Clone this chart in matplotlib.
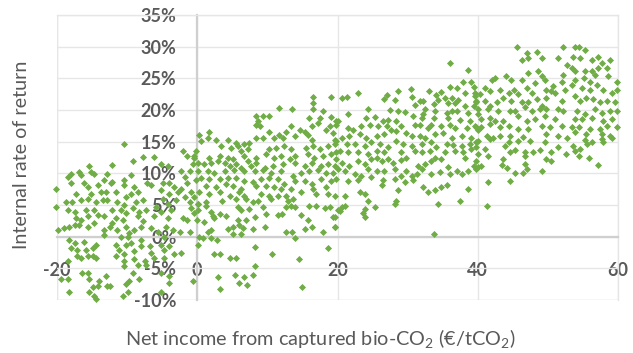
import matplotlib
matplotlib.use("Agg")
import matplotlib.pyplot as plt
from matplotlib.ticker import FuncFormatter

plt.rcParams['font.family'] = ['Lato', 'DejaVu Sans']
plt.rcParams['mathtext.fontset'] = 'custom'
plt.rcParams['mathtext.rm'] = 'Lato'
plt.rcParams['mathtext.default'] = 'regular'

# (net income €/tCO2, IRR %), grouped by region
pts_left = [
    (-10.4,14.6),(-7.8,12.6),(-6.1,12.6),(-2.1,13.5),(-1.4,12.8),(-0.4,12.5),(-0.6,11.5),(-9.2,12.0),
    (-12.1,11.3),(-15.4,11.1),(-15.2,10.2),(-14.7,9.9),(-16.8,10.2),(-16.6,9.7),(-18.0,9.9),(-18.5,9.5),
    (-5.2,11.5),(-4.2,11.2),(-2.3,10.4),(-1.1,10.4),(-1.8,9.4),(-12.8,9.9),(-13.3,8.9),(-10.4,8.9),
    (-9.5,9.7),(-12.3,8.4),(-12.1,8.6),(-10.4,8.1),(-9.0,7.8),(-7.1,8.4),(-6.6,8.1),(-4.9,8.4),
    (-4.0,8.4),(-3.3,7.8),(-2.3,7.6),(-1.4,8.4),(-0.2,8.9),(-18.0,8.4),(-16.1,8.4),(-15.6,7.8),
    (-14.2,8.1),(-20.2,7.6),(-13.7,7.1),(-13.0,7.1),(-11.6,7.1),(-8.5,7.1),(-9.5,6.8),(-5.2,7.3),
    (-4.0,6.8),(-2.8,7.1),(-0.9,7.1),(-0.4,6.3),(-15.2,6.8),(-18.7,5.5),(-17.8,5.5),(-17.3,6.8),
    (-16.6,5.8),(-15.6,6.0),(-14.5,5.5),(-13.5,5.8),(-12.8,5.8),(-11.4,5.5),(-10.2,6.3),(-10.4,5.0),
    (-8.7,5.5),(-7.8,5.8),(-4.9,6.0),(-4.2,5.2),(-3.0,5.8),(-1.8,6.3),(-1.1,5.5),(0.1,5.2),
    (-20.2,4.7),(-18.5,4.2),(-17.5,3.9),(-15.9,4.2),(-14.7,4.2),(-14.2,3.4),(-12.1,4.2),(-10.9,4.2),
    (-10.2,3.7),(-9.2,4.5),(-8.3,3.9),(-7.3,4.2),(-5.9,4.7),(-5.2,3.9),(-3.7,4.2),(-0.9,4.5),
    (-0.4,3.7),(-17.3,2.9),(-16.6,2.6),(-15.6,3.2),(-13.3,3.2),(-11.6,2.9),(-10.6,2.6),(-8.5,3.2),
    (-7.8,2.4),(-6.1,3.2),(-4.2,2.9),(-2.1,2.9),(-1.4,2.6),(-19.9,1.1),(-19.0,1.3),(-18.3,1.6),
    (-17.5,1.9),(-16.8,1.9),(-15.6,1.6),(-14.7,2.1),(-13.3,1.1),(-12.5,1.6),(-12.1,2.1),(-11.4,1.1),
    (-10.2,1.6),(-9.7,0.6),(-9.0,1.1),(-8.0,1.6),(-6.6,1.3),(-5.6,0.8),(-4.4,1.6),(-3.5,1.1),
    (-2.5,0.8),(-1.1,0.8),(-13.3,0.3),(-10.9,0.0),(-9.9,0.0),(-8.0,-0.5),(-4.7,0.0),(-18.3,-0.5),
    (-17.5,-1.0),(-16.1,-0.8),(-14.5,-1.3),(-18.0,-1.8),(-17.1,-2.1),(-15.9,-2.1),(-14.9,-1.8),(-11.6,-1.3),
    (-11.1,-2.1),(-10.2,-1.3),(-9.5,-1.0),(-8.0,-1.5),(-6.8,-1.5),(-5.2,-1.3),(-4.0,-1.5),(-11.6,-3.1),
    (-10.4,-2.8),(-9.0,-2.3),(-6.6,-2.6),(-4.7,-2.1),(-3.3,-2.8),(-2.3,-2.6),(-17.1,-3.1),(-16.6,-3.4),
    (-15.6,-3.1),(-14.9,-3.1),(-14.5,-3.4),(-18.5,-3.9),(-10.4,-3.9),(-9.0,-3.6),(-7.5,-3.9),(-6.1,-3.4),
    (-4.7,-3.4),(-10.4,-4.7),(-8.5,-4.4),(-7.3,-4.4),(-16.4,-5.7),(-15.6,-5.7),(-13.0,-6.2),(-14.0,-7.0),
    (-18.5,-6.7),(-19.5,-6.7),(-15.4,-6.7),(-9.2,-5.7),(-5.2,-5.7),(-4.0,-6.2),(-9.7,-7.0),(-8.3,-6.7),
    (-14.9,-8.0),(-14.2,-7.8),(-12.8,-7.8),(-10.2,-7.5),(-4.0,-7.3),(-0.6,-7.0),(-18.3,-8.8),(-15.4,-8.8),
    (-14.7,-9.3),(-14.5,-9.9),(-10.6,-9.3),(-9.9,-8.8),(-5.2,-8.8),(-12.5,-7.8),
]

pts_mid_low = [
    (16.5,22.0),(16.5,21.1),(16.5,20.1),(19.1,22.1),(11.6,20.3),(13.5,20.1),(17.9,19.8),(8.4,19.1),
    (9.4,19.1),(10.2,19.1),(16.0,18.7),(17.5,18.7),(19.1,18.9),(19.8,18.2),(8.6,18.2),(8.9,17.4),
    (8.4,17.7),(16.3,17.4),(17.2,17.9),(18.9,17.4),(10.3,16.6),(13.4,17.4),(14.6,16.9),(12.7,16.5),
    (11.7,16.1),(11.0,15.6),(12.2,15.6),(13.9,15.9),(15.3,16.6),(15.8,16.1),(16.3,15.3),(18.4,16.9),
    (19.4,16.4),(19.6,15.3),(1.7,16.6),(0.3,16.0),(1.5,15.6),(0.5,15.1),(2.7,15.2),(4.4,15.3),
    (5.5,14.8),(5.8,14.3),(6.7,14.6),(7.4,14.8),(8.4,15.6),(9.4,15.6),(7.2,13.8),(6.3,13.5),
    (4.8,14.0),(3.4,14.3),(10.3,13.8),(11.3,14.0),(12.4,14.3),(13.4,13.8),(15.5,14.0),(16.5,14.3),
    (17.5,13.8),(18.6,14.3),(19.6,14.6),(-0.2,13.5),(-0.4,12.7),(1.7,12.5),(3.2,12.7),(4.4,12.5),
    (5.1,12.2),(6.7,12.7),(7.2,11.9),(8.4,12.5),(9.8,13.0),(11.0,12.5),(12.0,12.7),(13.2,12.2),
    (13.9,12.7),(15.8,13.0),(16.7,12.5),(17.9,12.7),(19.1,13.0),(19.8,13.3),(0.1,11.7),(1.0,11.4),
    (2.0,11.7),(2.9,11.9),(3.9,11.7),(4.6,11.2),(5.5,11.4),(6.3,10.9),(7.7,11.2),(8.4,11.7),
    (9.6,10.9),(10.8,11.2),(12.2,11.4),(13.9,11.7),(15.3,11.2),(16.3,11.7),(17.7,11.2),(18.6,11.4),
    (19.6,11.2),(0.1,10.4),(1.5,10.4),(2.4,10.1),(3.9,10.4),(5.3,10.6),(6.7,10.4),(8.2,10.4),
    (9.4,10.6),(10.5,10.1),(12.0,10.4),(13.6,9.6),(14.8,10.1),(16.0,10.4),(17.2,10.6),(18.4,10.1),
    (19.4,10.1),(0.5,9.3),(1.7,9.1),(3.2,9.1),(4.4,9.3),(5.5,9.3),(6.7,8.8),(7.9,8.6),
    (9.1,9.1),(10.3,9.3),(11.5,9.1),(12.4,8.3),(13.9,8.8),(15.3,8.8),(16.3,8.3),(17.7,9.1),
    (19.1,8.8),(1.3,8.0),(2.7,7.8),(4.1,8.3),(5.1,8.0),(6.3,7.5),(8.4,8.0),(9.8,8.0),
    (11.0,7.8),(12.0,7.5),(13.4,7.5),(14.8,7.0),(16.5,7.5),(18.4,7.8),(0.3,7.0),(1.7,6.7),
    (3.2,7.0),(4.6,6.5),(6.0,7.0),(6.7,6.5),(9.1,6.7),(10.3,6.5),(11.5,6.5),(12.7,6.5),
    (17.0,6.7),(18.6,6.7),(19.6,6.5),
    (1.3,5.5),(0.1,5.2),(3.6,5.7),(5.5,6.0),(7.0,6.0),(7.9,5.5),(8.6,5.6),(10.5,6.0),
    (12.9,5.7),(13.6,6.0),(13.4,4.9),(12.7,4.7),(13.9,4.7),(16.0,4.8),(17.0,4.8),(18.2,4.5),
    (18.9,4.7),(20.1,4.2),(1.3,4.9),(0.1,4.2),(2.0,3.9),(3.2,3.6),(4.1,3.3),(2.4,2.9),
    (2.2,3.3),(5.8,4.7),(6.3,4.2),(7.4,4.4),(9.4,4.7),(9.8,3.6),(11.5,3.4),(12.1,3.6),
    (14.8,3.4),(15.8,2.6),(19.4,3.1),(0.0,2.6),(1.0,2.3),(5.8,2.6),(7.0,2.6),(8.2,3.1),
    (6.0,1.8),(5.1,1.6),(4.4,1.2),(6.5,1.3),(5.1,0.5),(6.3,0.5),(7.9,1.2),(9.6,1.6),
    (12.7,0.8),(13.5,0.8),(15.3,1.2),(16.3,1.6),(17.9,0.7),(19.6,1.6),(2.0,1.0),(1.5,0.7),
    (0.8,-0.2),(0.3,0.0),(2.0,-0.2),(2.8,-0.5),(14.0,-0.2),(0.1,-1.3),(8.3,-1.7),(18.7,-1.8),
    (2.4,-2.8),(3.3,-2.8),(4.7,-3.3),(5.5,-3.3),(10.6,-2.8),(14.5,-3.5),(8.3,-4.6),(3.0,-6.4),
    (5.4,-6.1),(6.6,-6.4),(7.9,-6.1),(6.0,-7.3),(7.1,-7.7),(3.2,-8.3),(14.9,-7.9),
]

pts_mid_high = [
    (36.0,27.5),(38.6,26.3),(37.9,24.5),(39.1,24.5),(39.4,23.7),(36.0,23.7),(37.0,23.5),(30.5,23.3),
    (28.6,23.0),(22.9,22.7),(33.1,23.0),(34.8,22.8),(34.1,22.3),(35.3,21.9),(36.3,21.9),(37.2,21.6),
    (38.2,22.7),(39.6,22.2),(39.8,21.4),(21.4,22.0),(20.7,21.9),(27.0,22.3),(26.7,21.7),(28.2,21.6),
    (30.6,22.0),(31.7,21.5),(32.2,21.4),(31.0,20.8),(33.7,21.0),(34.4,21.6),(35.8,21.1),(36.7,21.1),
    (38.2,20.6),(39.4,20.6),(24.4,20.2),(27.5,20.0),(28.6,19.8),(29.6,19.7),(32.5,20.1),(32.2,19.3),
    (32.0,18.8),(33.9,19.8),(35.6,19.5),(36.3,19.8),(37.0,19.8),(38.6,19.5),(40.1,19.3),(21.5,19.3),
    (25.3,18.9),(24.1,18.8),(20.1,18.2),(19.8,17.7),(27.2,18.5),(26.5,18.2),(28.4,18.2),(30.8,19.0),
    (31.0,17.7),(31.7,17.7),(33.7,18.8),(33.4,17.7),(35.8,18.8),(37.5,18.5),(38.9,18.2),(39.6,17.5),
    (21.5,17.2),(22.2,16.9),(23.4,17.5),(24.6,17.7),(25.8,17.5),(27.0,17.5),(27.7,16.9),(29.1,17.5),
    (29.8,16.4),(32.9,17.2),(34.8,17.5),(36.0,17.7),(36.7,17.2),(38.4,17.2),(40.1,16.9),(20.6,15.6),
    (21.7,15.9),(23.2,16.2),(24.1,15.6),(25.6,15.9),(26.7,16.2),(28.4,16.7),(30.6,15.9),(31.7,15.9),
    (32.5,15.6),(33.9,16.2),(35.1,16.4),(36.3,15.6),(37.7,15.9),(39.1,15.6),(19.8,15.1),(21.3,14.6),
    (22.5,14.6),(23.9,14.3),(24.8,14.9),(26.0,14.6),(27.2,14.1),(28.4,15.1),(29.4,14.6),(30.6,14.3),
    (32.0,14.6),(33.4,14.9),(34.1,14.1),(35.6,14.6),(36.5,14.4),(37.7,14.3),(38.9,14.6),(39.8,14.9),
    (20.3,13.6),(21.5,13.3),(22.9,13.3),(24.4,13.0),(25.6,13.6),(26.7,13.3),(29.1,13.3),(31.0,13.6),
    (32.0,13.3),(33.2,13.6),(35.3,13.3),(36.7,13.6),(37.9,13.3),(39.1,13.8),(40.1,13.0),
    (19.8,12.2),(20.6,11.7),(21.7,11.2),(22.9,12.0),(23.9,11.5),(24.8,12.2),(25.6,12.5),(26.3,12.0),
    (27.2,12.2),(27.9,11.7),(29.1,12.1),(29.8,12.5),(31.5,11.2),(32.5,11.5),(33.4,12.0),(33.9,12.5),
    (34.8,12.2),(35.8,11.0),(37.0,10.4),(38.2,12.5),(39.4,11.2),(40.1,11.0),(20.1,10.7),(21.0,10.4),
    (22.5,9.9),(23.4,9.6),(24.4,10.7),(25.6,10.4),(26.7,10.4),(28.2,10.7),(29.1,9.6),(29.8,10.4),
    (30.6,9.6),(31.3,9.9),(32.0,10.7),(33.4,9.9),(34.6,10.2),(36.0,9.9),(37.7,9.9),(38.6,10.4),
    (19.8,9.1),(21.5,8.8),(22.9,9.0),(24.8,9.4),(26.3,8.1),(26.5,9.0),(28.2,9.1),(29.6,8.6),
    (30.8,8.9),(32.2,7.9),(32.9,7.0),(33.9,7.4),(34.8,7.8),(35.6,8.1),(38.6,7.6),(23.2,7.0),
    (23.9,6.8),(21.0,6.4),(28.6,7.4),(28.4,5.7),(28.2,5.2),(24.4,5.6),(20.6,4.7),(20.3,4.1),
    (21.1,4.8),(23.9,4.4),(23.6,3.8),(25.3,4.7),(34.4,5.2),(37.5,5.6),(19.6,3.1),(23.9,3.1),
    (19.7,1.6),(33.8,0.4),
]

pts_right = [
    (45.6,29.9),(52.2,29.9),(53.9,30.0),(54.4,30.0),(55.3,29.4),(47.0,29.0),(48.4,29.1),(47.2,28.2),
    (49.1,28.2),(46.3,27.9),(51.5,28.2),(53.6,28.4),(54.6,28.2),(56.3,27.9),(57.2,28.4),(58.9,27.9),
    (52.7,27.1),(53.4,26.6),(53.9,26.1),(57.7,27.4),(57.2,26.6),(56.3,26.1),(55.3,26.1),(58.4,26.6),
    (52.2,25.6),(47.2,25.8),(48.6,26.1),(49.1,25.3),(49.6,24.8),(44.0,25.4),(42.5,25.1),(42.0,24.7),
    (44.8,24.8),(46.3,24.8),(48.2,24.3),(50.8,23.8),(52.0,24.5),(53.9,24.8),(55.1,25.1),(56.0,24.5),
    (56.7,25.6),(58.6,25.3),(59.8,24.5),(51.0,22.7),(52.5,23.2),(53.4,24.0),(54.8,23.5),(56.0,23.2),
    (57.0,24.0),(57.9,23.2),(59.1,22.7),(59.9,23.2),(41.0,23.5),(41.7,23.0),(43.2,23.2),(44.4,22.7),
    (45.1,23.2),(45.8,22.5),(47.0,23.5),(47.7,22.7),(49.8,23.2),(50.5,23.0),(40.3,22.5),(39.8,21.2),
    (39.6,22.7),(41.0,21.4),(41.7,20.6),(42.7,21.2),(43.6,21.9),(44.8,21.4),(46.3,21.2),(47.2,21.2),
    (48.4,21.7),(49.1,20.6),(49.8,21.9),(52.0,21.4),(53.9,22.2),(54.6,21.4),(55.5,21.9),(56.5,21.7),
    (57.5,21.2),(58.4,21.4),(59.6,21.2),(40.1,20.1),(41.5,20.1),(42.9,19.9),(44.6,19.9),(45.3,19.9),
    (46.7,20.4),(47.7,19.9),(48.9,20.1),(49.8,20.1),(51.5,20.1),(52.2,19.9),(54.1,19.9),(55.3,19.3),
    (56.7,20.1),(57.7,19.6),(58.9,19.9),(59.8,19.9),(40.5,18.6),(41.7,18.8),(42.5,18.3),(43.6,18.3),
    (45.8,19.1),(47.0,18.3),(48.2,18.6),(49.6,19.1),(51.0,18.6),(53.9,18.6),(54.8,18.6),(56.3,18.8),
    (57.9,18.3),(59.1,18.6),(39.8,17.3),(40.5,17.3),(41.7,17.8),(43.2,17.3),(44.4,17.5),(45.8,17.0),
    (47.2,17.0),(49.1,17.5),(50.3,17.3),(52.0,17.5),(53.4,17.3),(54.4,17.3),(56.0,17.0),(57.5,17.0),
    (58.4,17.5),(59.8,17.3),(41.3,15.9),(43.2,15.9),(44.6,15.9),(46.5,15.7),(49.8,16.2),(51.5,15.9),
    (53.9,16.5),(55.5,16.2),(57.7,16.2),(58.9,15.9),
    (40.1,15.1),(41.7,15.4),(42.2,15.6),(45.8,15.1),(47.5,15.1),(49.6,14.9),(52.7,15.6),(55.3,15.3),
    (56.3,14.9),(57.7,15.4),(59.1,15.6),(39.8,14.1),(41.0,13.8),(43.9,14.3),(44.4,14.9),(45.3,13.7),
    (44.6,13.3),(46.7,13.3),(47.9,13.4),(48.9,13.7),(50.5,13.4),(51.5,14.2),(53.6,14.3),(53.9,13.6),
    (54.6,13.8),(55.6,14.6),(57.9,14.9),(41.5,12.8),(43.6,12.3),(46.7,12.8),(49.8,12.3),(50.5,12.0),
    (52.6,13.0),(54.4,12.8),(55.8,12.4),(39.8,12.0),(40.5,11.2),(39.8,10.7),(43.4,11.3),(44.1,10.8),
    (46.7,11.5),(47.0,10.7),(45.3,10.1),(46.5,10.1),(49.1,10.3),(57.1,11.3),(41.5,8.6),(44.6,8.8),
    (41.3,4.9),
]

x_ticks = [-20, 0, 20, 40, 60]
y_ticks = [-10, -5, 0, 5, 10, 15, 20, 25, 30, 35]
x_label = 'Net income from captured bio-CO$_2$ (€/tCO$_2$)'
y_label = 'Internal rate of return'

all_pts = pts_left + pts_mid_low + pts_mid_high + pts_right
xs = [p[0] for p in all_pts]
ys = [p[1] for p in all_pts]

fig = plt.figure(figsize=(6.33, 3.53), dpi=100)
ax = fig.add_axes([57/633, 1 - 300/353, 561/633, 285/353])
ax.set_xlim(-20, 60)
ax.set_ylim(-10, 35)

grid_c = '#e6e6e6'
ax.set_xticks(x_ticks)
ax.set_yticks(y_ticks)
ax.grid(True, color=grid_c, linewidth=1.0, zorder=0)
ax.set_axisbelow(True)

for s in ['top', 'right']:
    ax.spines[s].set_color(grid_c)
    ax.spines[s].set_linewidth(1.0)
ax.spines['left'].set_position(('data', 0))
ax.spines['bottom'].set_position(('data', 0))
ax.spines['left'].set_color('#cfcfcf')
ax.spines['bottom'].set_color('#cfcfcf')
ax.spines['left'].set_linewidth(1.6)
ax.spines['bottom'].set_linewidth(1.6)
ax.axvline(-20, color=grid_c, linewidth=1.0, zorder=0)
ax.axhline(-10, color=grid_c, linewidth=1.0, zorder=0)

ax.scatter(xs, ys, marker='D', s=9, color='#70AD47', edgecolors='#70AD47',
           linewidths=0.6, zorder=3, clip_on=False)

tick_c = '#595959'
ax.tick_params(axis='both', length=0, labelsize=13, labelcolor=tick_c)
ax.tick_params(axis='y', pad=15)
ax.tick_params(axis='x', pad=18)
ax.yaxis.set_major_formatter(FuncFormatter(lambda v, p: f'{int(v)}%'))
ax.xaxis.set_major_formatter(FuncFormatter(lambda v, p: f'{int(v)}'))
for lab in ax.get_xticklabels() + ax.get_yticklabels():
    lab.set_fontweight('bold')

fig.text(22/633, 1 - 155/353, y_label, rotation=90, ha='center', va='center',
         fontsize=14.2, color=tick_c)
fig.text(320/633, 1 - 338/353, x_label, ha='center', va='center',
         fontsize=14.3, color=tick_c)

fig.savefig('out.png', dpi=100)
